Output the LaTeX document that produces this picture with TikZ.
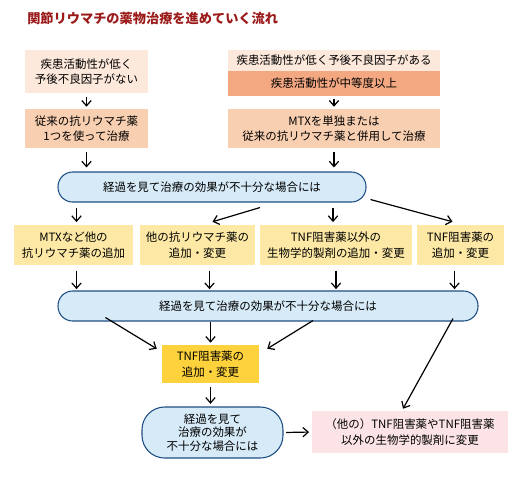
\documentclass[tikz,border=0pt]{standalone}
\usepackage{fontspec}
\setmainfont{Noto Sans CJK JP}
\usetikzlibrary{arrows.meta,calc}
\definecolor{titlered}{HTML}{9B1B1B}
\definecolor{peachlight}{HTML}{FDE9DC}
\definecolor{peach}{HTML}{F9CFB1}
\definecolor{peachdark}{HTML}{F3A882}
\definecolor{bluefill}{HTML}{D6EAF7}
\definecolor{blueline}{HTML}{1F4E85}
\definecolor{yellowlight}{HTML}{FDE9A5}
\definecolor{yellowdark}{HTML}{FDD23C}
\definecolor{pinklight}{HTML}{FCE4E6}
\begin{document}
\begin{tikzpicture}[x=0.75pt,y=-0.75pt,
  txt/.style={font=\fontsize{8.6}{11.6}\selectfont, align=center, inner sep=0pt},
  box/.style={txt, fill=#1},
  rbox/.style={txt, fill=bluefill, draw=blueline, line width=0.8pt, rounded corners=11pt},
  arr/.style={line width=0.9pt, -{Straight Barb[length=4pt,width=7pt]}}
]
\useasboundingbox (0,0) rectangle (520,480);
\node[anchor=west, font=\fontsize{9.9}{12}\selectfont\bfseries, text=titlered, inner sep=0pt] (title) at (27,18) {関節リウマチの薬物治療を進めていく流れ};

\node[box=peachlight, minimum width=92.25pt, minimum height=32.25pt] (A) at (86.5,71.5) {疾患活動性が低く\\予後不良因子がない};
\node[box=peach, minimum width=92.25pt, minimum height=29.25pt] (B) at (86.5,128.5) {従来の抗リウマチ薬\\1つを使って治療};
\node[box=peachlight, minimum width=159pt, minimum height=15.75pt] (C) at (334,60.5) {疾患活動性が低く予後不良因子がある};
\node[box=peachdark, minimum width=159pt, minimum height=18.75pt] (D) at (334,83.5) {疾患活動性が中等度以上};
\node[box=peach, minimum width=159pt, minimum height=29.25pt] (E) at (334,128.5) {MTXを単独または\\従来の抗リウマチ薬と併用して治療};

\node[rbox, minimum width=231pt, minimum height=22.5pt] (F) at (212,187) {経過を見て治療の効果が不十分な場合には};

\node[box=yellowlight, minimum width=89.25pt, minimum height=30pt] (G1) at (73.5,245) {MTXなど他の\\抗リウマチ薬の追加};
\node[box=yellowlight, minimum width=86.25pt, minimum height=30pt] (G2) at (197.5,245) {他の抗リウマチ薬の\\追加・変更};
\node[box=yellowlight, minimum width=114pt, minimum height=30pt] (G3) at (336,245) {TNF阻害薬以外の\\生物学的製剤の追加・変更};
\node[box=yellowlight, minimum width=65.25pt, minimum height=30pt] (G4) at (460.5,245) {TNF阻害薬の\\追加・変更};

\node[rbox, minimum width=315pt, minimum height=22.5pt] (H) at (268,306) {経過を見て治療の効果が不十分な場合には};

\node[box=yellowdark, minimum width=72.75pt, minimum height=28.5pt] (I) at (210.5,364) {TNF阻害薬の\\追加・変更};
\node[rbox, rounded corners=17pt, font=\fontsize{8.6}{10}\selectfont, minimum width=105.75pt, minimum height=38.25pt] (J) at (212.5,432.5) {経過を見て\\治療の効果が\\不十分な場合には};
\node[box=pinklight, minimum width=147pt, minimum height=31.5pt] (K) at (410,432) {（他の）TNF阻害薬やTNF阻害薬\\以外の生物学的製剤に変更};

\draw[arr, shorten <=3pt, shorten >=1.5pt] (A) -- (B);
\draw[arr, shorten <=3pt, shorten >=3pt] (B.south) -- (B.south |- F.north);
\draw[arr, shorten <=2pt, shorten >=1.5pt] (D) -- (E);
\draw[arr, shorten <=3pt, shorten >=3pt] (E.south) -- (E.south |- F.north);

\draw[arr, shorten <=4pt, shorten >=2pt] ($(G1.north |- F.south)+(3,0)$) -- ($(G1.north)+(3,0)$);
\draw[arr] ($(F.south)+(48,5)$) -- ($(G2.north)+(15,-3)$);
\draw[arr, shorten <=4pt, shorten >=2pt] ($(G3.north |- F.south)+(-3,0)$) -- ($(G3.north)+(-3,0)$);
\draw[arr] ($(F.south east)+(4,-3)$) -- ($(G4.north)+(-8,-3)$);

\draw[arr, shorten <=4pt, shorten >=1pt] ($(G1.south)+(3,0)$) -- ($(G1.south |- H.north)+(3,0)$);
\draw[arr, shorten <=4pt, shorten >=1pt] ($(G2.south)+(12,0)$) -- ($(G2.south |- H.north)+(12,0)$);
\draw[arr, shorten <=4pt, shorten >=1pt] (G3.south) -- (G3.south |- H.north);
\draw[arr, shorten <=4pt, shorten >=1pt] ($(G4.south)+(-6,0)$) -- ($(G4.south |- H.north)+(-6,0)$);

\draw[arr] ($(H.south west)+(48,-4)$) -- ($(I.north west)+(-5,4)$);
\draw[arr, shorten >=1.5pt] (I.north |- H.south) -- (I.north);
\draw[arr] ($(H.south)+(45,-1)$) -- ($(I.north east)+(8,4)$);
\draw[arr] ($(H.south)+(185,-3)$) -- ($(K.north)+(-7,-2)$);

\draw[arr, shorten <=3pt, shorten >=2pt] (I.south) -- (I.south |- J.north);
\draw[arr, shorten <=2pt, shorten >=2pt] (J.east) -- (K.west);
\end{tikzpicture}
\end{document}
